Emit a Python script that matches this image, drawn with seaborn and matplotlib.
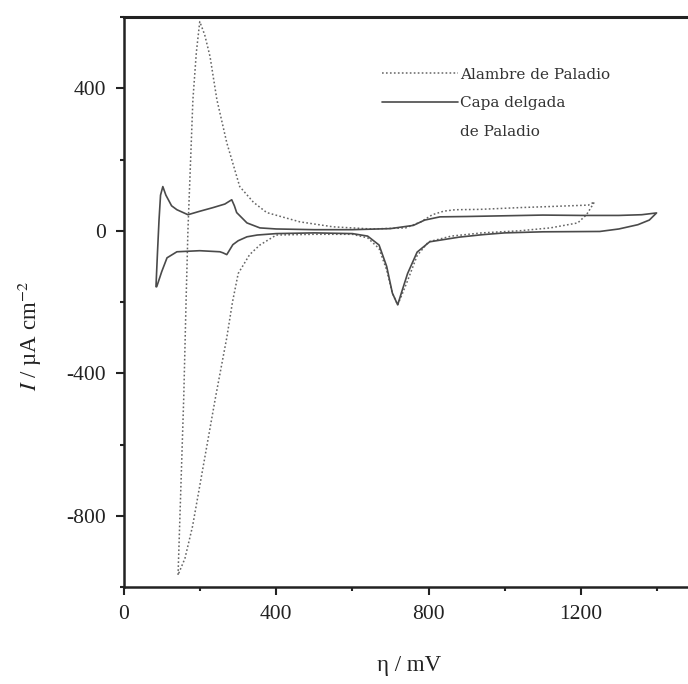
import numpy as np
import pandas as pd
import matplotlib
matplotlib.use("Agg")
import matplotlib.pyplot as plt
from matplotlib.ticker import MultipleLocator
from matplotlib.lines import Line2D
import seaborn as sns

# --- data ---
series_names = ["Alambre de Paladio", "Capa delgada\nde Paladio"]

# Alambre de Paladio (dotted): anodic sweep then cathodic sweep
wire_eta = [142, 150, 157, 163, 168, 171, 181, 190, 199, 212, 226, 244, 270, 304, 340, 375,
            462, 549, 650, 740, 780, 810, 840, 870, 935, 1040, 1120, 1220, 1236,
            1215, 1192, 1120, 1040, 940, 860, 800, 770, 745, 730, 719, 705, 690, 670, 640,
            600, 500, 400, 357, 330, 300, 285, 270, 240, 210, 180, 160, 142]
wire_i = [-966, -700, -466, -200, 3, 87, 368, 500, 587, 550, 489, 368, 247, 124, 80, 51,
          25, 11, 5, 8, 25, 45, 55, 59, 60, 65, 68, 72, 81,
          45, 22, 8, 0, -6, -15, -31, -70, -140, -180, -208, -175, -110, -50, -20,
          -10, -10, -12, -40, -67, -120, -200, -300, -470, -650, -830, -920, -966]

# Capa delgada de Paladio (solid)
film_eta = [84, 88, 92, 96, 102, 110, 125, 139, 168, 200, 234, 265, 283, 290, 296, 323, 357,
            400, 500, 600, 700, 760, 790, 830, 900, 1000, 1100, 1200, 1300, 1360, 1399,
            1380, 1350, 1300, 1250, 1100, 1000, 942, 880, 803, 770, 745, 730, 719, 705, 690,
            670, 640, 600, 500, 400, 350, 323, 300, 286, 270, 260, 252, 199, 139, 113, 99, 86]
film_i = [-157, -60, 30, 100, 124, 100, 70, 59, 45, 55, 65, 75, 87, 70, 51, 22, 8,
          5, 3, 3, 6, 15, 30, 39, 40, 42, 44, 43, 43, 45, 50,
          30, 17, 5, -2, -3, -6, -11, -18, -31, -60, -120, -170, -208, -175, -100,
          -40, -15, -8, -6, -8, -12, -17, -28, -39, -67, -62, -59, -56, -59, -76, -115, -157]

x_ticks = [0, 400, 800, 1200]
y_ticks = [-800, -400, 0, 400]

frames = []
for name, xs, ys in [(series_names[0], wire_eta, wire_i), (series_names[1], film_eta, film_i)]:
    frames.append(pd.DataFrame({"eta": xs, "I": ys, "serie": name, "order": np.arange(len(xs))}))
df = pd.concat(frames, ignore_index=True)

sns.set_theme(style="ticks")
plt.rcParams["font.family"] = ["Liberation Serif", "DejaVu Serif"]
plt.rcParams["mathtext.fontset"] = "stix"

fig = plt.figure(figsize=(6.88, 6.84), dpi=100)
ax = fig.add_axes([124 / 688, 97 / 684, 571 / 688, 570 / 684])

dot_style = dict(color="#666666", lw=1.1, linestyle=(0, (1.1, 1.5)))
solid_style = dict(color="#4a4a4a", lw=1.2, linestyle="-")

sns.lineplot(data=df[df.serie == series_names[0]], x="eta", y="I", sort=False, estimator=None,
             ax=ax, legend=False, **dot_style)
sns.lineplot(data=df[df.serie == series_names[1]], x="eta", y="I", sort=False, estimator=None,
             ax=ax, legend=False, **solid_style)

ax.set_xlim(0, 1500)
ax.set_ylim(-1000, 600)
ax.set_xticks(x_ticks)
ax.set_yticks(y_ticks)
ax.set_xticklabels([str(v) for v in x_ticks])
ax.set_yticklabels([str(v) for v in y_ticks])
ax.xaxis.set_minor_locator(MultipleLocator(200))
ax.yaxis.set_minor_locator(MultipleLocator(200))
ax.tick_params(axis="both", which="major", direction="out", length=6, width=1.5,
               labelsize=15.5, colors="#222222", pad=7)
ax.tick_params(axis="both", which="minor", direction="out", length=3, width=1.5, colors="#222222")
ax.tick_params(axis="x", which="both", top=False)
ax.tick_params(axis="y", which="both", right=False)

for s in ["left", "bottom"]:
    ax.spines[s].set_linewidth(1.8)
    ax.spines[s].set_color("#222222")
ax.spines["top"].set_linewidth(2.2)
ax.spines["top"].set_color("#222222")
ax.spines["right"].set_visible(False)

ax.set_xlabel("η / mV", fontsize=16.5, color="#222222", labelpad=22)
ax.set_ylabel(r"$\mathit{I}$ / µA cm$^{-2}$", fontsize=16.5, color="#222222")
ax.yaxis.set_label_coords(-0.14, 0.44)

# legend: second label spans two lines, handle aligned with its first line
label_lines = series_names[1].split("\n")
handles = [Line2D([], [], **dot_style), Line2D([], [], **solid_style),
           Line2D([], [], color="none")]
labels = [series_names[0], label_lines[0], label_lines[1]]
leg = ax.legend(handles, labels, loc="upper left", bbox_to_anchor=(374 / 688, 1 - 60 / 684),
                bbox_transform=fig.transFigure, frameon=False,
                handlelength=5.0, handletextpad=0.15, labelspacing=0.95, borderpad=0,
                prop={"family": ["DejaVu Serif"], "size": 11})
for t in leg.get_texts():
    t.set_color("#333333")

fig.savefig("out.png", dpi=100)
